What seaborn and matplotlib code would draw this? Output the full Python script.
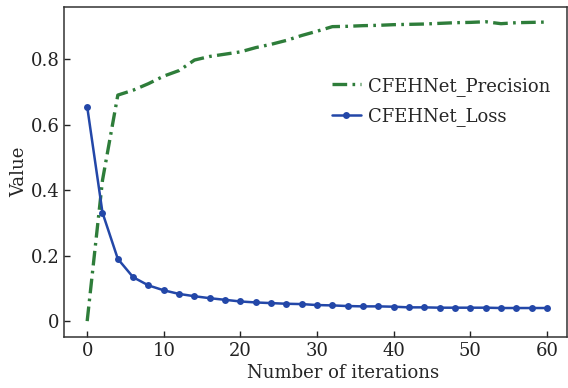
import numpy as np
import pandas as pd
import matplotlib
matplotlib.use("Agg")
import matplotlib.pyplot as plt
import seaborn as sns

# Iterations (every 2 steps)
iterations = list(range(0, 61, 2))

# CFEHNet precision
precision = [0.0, 0.43, 0.69, 0.705, 0.725, 0.748, 0.765, 0.797, 0.808, 0.815,
             0.822, 0.835, 0.845, 0.857, 0.872, 0.885, 0.899, 0.900, 0.902, 0.903,
             0.905, 0.906, 0.907, 0.909, 0.911, 0.912, 0.914, 0.908, 0.911, 0.912,
             0.913]

# CFEHNet loss
loss = [0.655, 0.331, 0.19, 0.134, 0.109, 0.094, 0.083, 0.076, 0.070, 0.065,
        0.060, 0.057, 0.055, 0.053, 0.052, 0.049, 0.048, 0.046, 0.045, 0.045,
        0.044, 0.042, 0.042, 0.041, 0.041, 0.041, 0.041, 0.040, 0.040, 0.040,
        0.040]

df = pd.DataFrame({"iteration": iterations, "precision": precision, "loss": loss})

sns.set_style("ticks")
plt.rcParams["font.family"] = ["DejaVu Serif"]

fig = plt.figure(figsize=(5.68, 3.88), dpi=100)
ax = fig.add_axes([0.113, 0.131, 0.885, 0.851])

green = "#2e7d3a"
blue = "#2347a8"

sns.lineplot(data=df, x="iteration", y="precision", ax=ax, color=green,
             linewidth=2.4, label="CFEHNet_Precision")
ax.lines[-1].set_dashes([4.4, 1.6, 0.8, 1.6])
sns.lineplot(data=df, x="iteration", y="loss", ax=ax, color=blue,
             linewidth=1.8, marker="o", markersize=5, markeredgewidth=0,
             label="CFEHNet_Loss")

ax.set_xlim(-3.0, 62.6)
ax.set_ylim(-0.049, 0.959)
ax.set_xticks([0, 10, 20, 30, 40, 50, 60])
ax.set_yticks([0, 0.2, 0.4, 0.6, 0.8])
ax.set_yticklabels(["0", "0.2", "0.4", "0.6", "0.8"])

ax.tick_params(direction="in", length=4, width=1, labelsize=13, colors="#222222")
for side in ["top", "right", "left", "bottom"]:
    ax.spines[side].set_visible(True)
    ax.spines[side].set_color("#333333")
    ax.spines[side].set_linewidth(1.1)

ax.set_xlabel("Number of iterations", fontsize=13)
ax.set_ylabel("Value", fontsize=13)
ax.xaxis.set_label_coords(0.555, -0.08)
ax.yaxis.set_label_coords(-0.071, 0.5)

leg = ax.legend(loc="center left", bbox_to_anchor=(0.5, 0.714), frameon=False,
                fontsize=13, handlelength=1.6, handletextpad=0.4,
                labelspacing=0.65)

fig.savefig("out.png", dpi=100)
